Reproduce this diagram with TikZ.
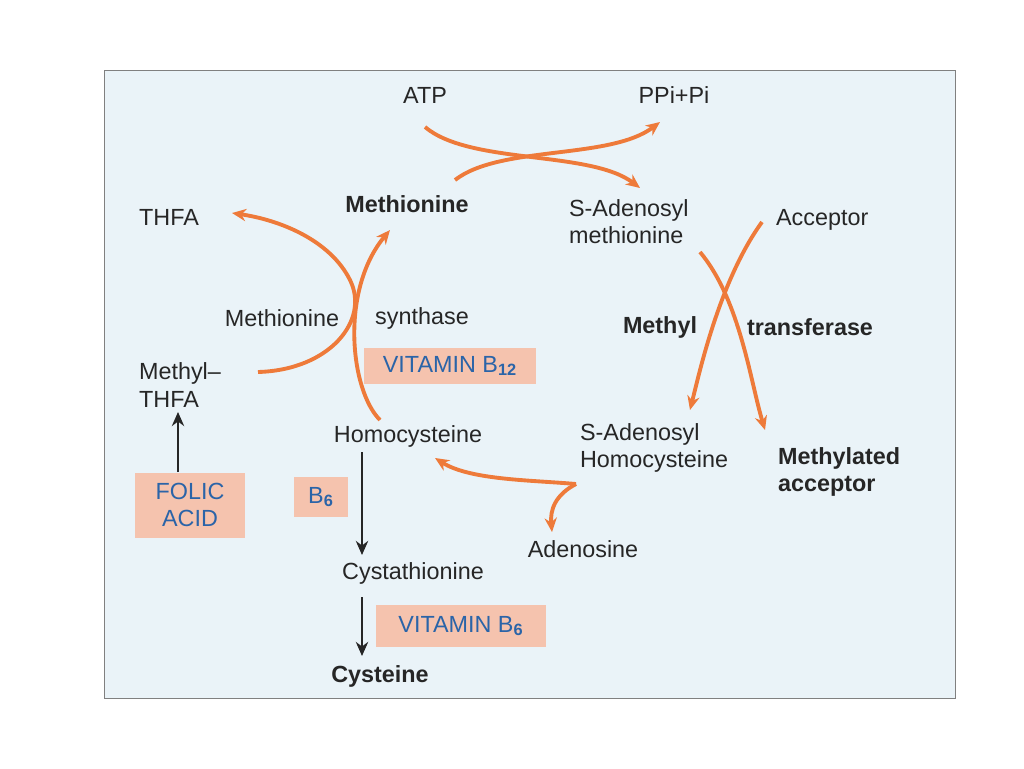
\documentclass[tikz,border=0pt]{standalone}
\usepackage{fontspec}
\setmainfont{Liberation Sans}
\usetikzlibrary{arrows.meta}
\definecolor{bg}{HTML}{EAF3F8}
\definecolor{org}{HTML}{EE7A3A}
\definecolor{boxc}{HTML}{F5C3AE}
\definecolor{blu}{HTML}{2A64A8}
\begin{document}
\begin{tikzpicture}[x=0.02cm,y=-0.02cm,
 t/.style={font=\fontsize{13.3}{15.5}\selectfont,text=black!85,align=left,inner sep=1pt},
 tb/.style={t,font=\fontsize{13.3}{15.5}\selectfont\bfseries},
 vb/.style={t,fill=boxc,text=blu,inner sep=4pt,align=center},
 oa/.style={draw=org,line width=2.2pt,-{Stealth[length=8pt,width=7pt]}},
 ba/.style={draw=black!85,line width=1.6pt,-{Stealth[length=8pt,width=7pt]}}]
\useasboundingbox (0,0) rectangle (1024,768);
\draw[fill=bg,draw=black!50] (104,70) rectangle (955,698);
\node[t] (atp) at (425,95) {ATP};
\node[t] (ppi) at (674,95) {PPi+Pi};
\node[t,anchor=west] (thfa) at (137,217) {THFA};
\node[tb] (met) at (407,204) {Methionine};
\node[t,anchor=west] (sam) at (567,222) {S-Adenosyl\\methionine};
\node[t,anchor=west] (acc) at (774,220) {Acceptor};
\node[t] (ms1) at (282,318) {Methionine};
\node[t] (ms2) at (422,318) {synthase};
\node[vb,minimum width=3.46cm,minimum height=0.72cm] (b12) at (450,366) {VITAMIN B\textsubscript{\textbf{12}}};
\node[t,anchor=west] (mthfa) at (137,385) {Methyl--\\THFA};
\node[t] (hcy) at (408,436) {Homocysteine};
\node[t,anchor=west] (sah) at (578,448) {S-Adenosyl\\Homocysteine};
\node[tb,anchor=west] (macc) at (776,472) {Methylated\\acceptor};
\node[vb,minimum width=2.2cm,minimum height=1.3cm] (folic) at (190,505) {FOLIC\\ACID};
\node[vb,minimum width=1.08cm,minimum height=0.8cm] (b6) at (321,497) {B\textsubscript{\textbf{6}}};
\node[t] (ade) at (583,549) {Adenosine};
\node[t] (cys) at (413,573) {Cystathionine};
\node[vb,minimum width=3.4cm,minimum height=0.84cm] (vb6) at (461,626) {VITAMIN B\textsubscript{\textbf{6}}};
\node[tb] (cyst) at (380,676) {Cysteine};
\node[tb] (mt1) at (660,327) {Methyl};
\node[tb] (mt2) at (810,327) {transferase};
% ATP crossing
\draw[oa] (425,127) .. controls (470,165) and (590,150) .. (640,188);
\draw[oa] (455,180) .. controls (500,145) and (610,160) .. (660,122);
% methionine synthase
\draw[oa] (258,372) .. controls (330,370) and (370,320) .. (350,280) .. controls (330,240) and (280,220) .. (232,213);
\draw[oa] (380,420) .. controls (350,390) and (340,290) .. (390,230);
% methyl transferase
\draw[oa] (700,252) .. controls (740,300) and (750,380) .. (765,430);
\draw[oa] (762,222) .. controls (720,280) and (700,370) .. (690,410);
% SAH to homocysteine and adenosine
\coordinate (j) at (576,484);
\draw[oa] (j) .. controls (530,480) and (470,480) .. (435,458);
\draw[oa] (j) .. controls (555,495) and (550,510) .. (552,532);
% black arrows
\draw[ba] (folic.north -| 178,0) -- (178,412);
\draw[ba] (362,452) -- (362,555);
\draw[ba] (362,597) -- (362,656);
\end{tikzpicture}
\end{document}
